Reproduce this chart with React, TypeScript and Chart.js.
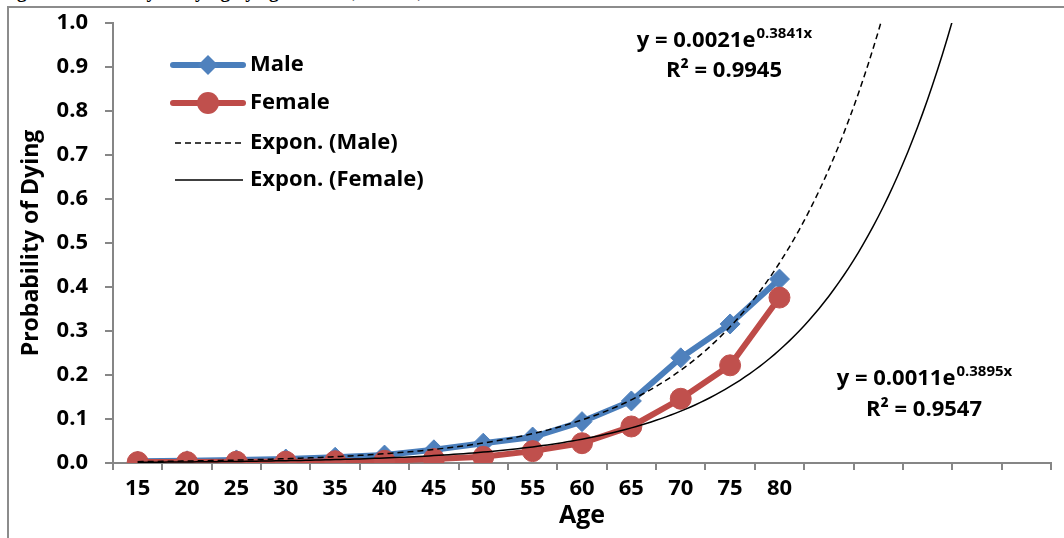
import React, { useEffect, useRef } from 'react';
import { Chart, registerables } from 'chart.js';

Chart.register(...registerables);

// ---- data ----
const ageLabels = ['15', '20', '25', '30', '35', '40', '45', '50', '55', '60', '65', '70', '75', '80'];
const forecastSlots = ['', '', '', '', ''];
const maleValues = [0.004, 0.005, 0.007, 0.009, 0.013, 0.018, 0.03, 0.045, 0.059, 0.094, 0.141, 0.239, 0.316, 0.418];
const femaleValues = [0.002, 0.002, 0.003, 0.003, 0.004, 0.005, 0.009, 0.014, 0.027, 0.045, 0.083, 0.146, 0.222, 0.376];
const maleTrendCoef = [0.0021, 0.3841];
const femaleTrendCoef = [0.0011, 0.3895];
const maleR2 = '0.9945';
const femaleR2 = '0.9547';
const yMin = 0;
const yMax = 1;
const yStep = 0.1;

const FONT = "'Open Sans', sans-serif";
const BLUE_LINE = '#4A7EBB';
const BLUE_FILL = '#4F81BD';
const RED_LINE = '#BE4B48';
const RED_FILL = '#C0504D';
const AXIS = '#868686';

function trendPoints(coef: number[], count: number) {
  const pts: { x: number; y: number }[] = [];
  for (let i = 0; i <= (count - 1) * 10; i++) {
    const x = 1 + i / 10;
    const y = coef[0] * Math.exp(coef[1] * x);
    pts.push({ x, y });
    if (y > yMax * 1.2) break;
  }
  return pts;
}

const legendPlugin = {
  id: 'customLegend',
  afterDraw(chart: any) {
    const ctx = chart.ctx;
    ctx.save();
    const items = [
      { label: 'Male', y: 65, kind: 'male' },
      { label: 'Female', y: 103, kind: 'female' },
      { label: 'Expon. (Male)', y: 143, kind: 'tm' },
      { label: 'Expon. (Female)', y: 180, kind: 'tf' },
    ];
    items.forEach((it) => {
      const x0 = 173, x1 = 243, xm = 208;
      ctx.setLineDash([]);
      if (it.kind === 'male' || it.kind === 'female') {
        ctx.strokeStyle = it.kind === 'male' ? BLUE_LINE : RED_LINE;
        ctx.lineWidth = 6;
        ctx.lineCap = 'round';
        ctx.beginPath();
        ctx.moveTo(x0, it.y);
        ctx.lineTo(x1, it.y);
        ctx.stroke();
        ctx.fillStyle = it.kind === 'male' ? BLUE_FILL : RED_FILL;
        ctx.beginPath();
        if (it.kind === 'male') {
          const r = 10;
          ctx.moveTo(xm - r, it.y);
          ctx.lineTo(xm, it.y - r);
          ctx.lineTo(xm + r, it.y);
          ctx.lineTo(xm, it.y + r);
          ctx.closePath();
        } else {
          ctx.arc(xm, it.y, 11, 0, Math.PI * 2);
        }
        ctx.fill();
      } else {
        ctx.strokeStyle = '#000';
        ctx.lineWidth = 1.5;
        ctx.lineCap = 'butt';
        if (it.kind === 'tm') ctx.setLineDash([6, 4]);
        ctx.beginPath();
        ctx.moveTo(x0 + 2, it.y);
        ctx.lineTo(x1, it.y);
        ctx.stroke();
        ctx.setLineDash([]);
      }
      ctx.fillStyle = '#000';
      ctx.font = `bold 22px ${FONT}`;
      ctx.textAlign = 'left';
      ctx.textBaseline = 'middle';
      ctx.fillText(it.label, 250, it.y);
    });
    ctx.restore();
  },
};

function drawEquation(ctx: any, cx: number, y1: number, y2: number, coef: number[], r2: string) {
  const base = `y = ${coef[0].toFixed(4)}e`;
  const sup = `${coef[1].toFixed(4)}x`;
  ctx.font = `bold 22px ${FONT}`;
  const wb = ctx.measureText(base).width;
  ctx.font = `bold 15px ${FONT}`;
  const ws = ctx.measureText(sup).width;
  const start = cx - (wb + ws) / 2;
  ctx.fillStyle = '#000';
  ctx.textAlign = 'left';
  ctx.textBaseline = 'middle';
  ctx.font = `bold 22px ${FONT}`;
  ctx.fillText(base, start, y1);
  ctx.font = `bold 15px ${FONT}`;
  ctx.fillText(sup, start + wb + 1, y1 - 7);
  ctx.font = `bold 22px ${FONT}`;
  ctx.textAlign = 'center';
  ctx.fillText(`R² = ${r2}`, cx, y2);
}

const equationPlugin = {
  id: 'equations',
  afterDraw(chart: any) {
    const ctx = chart.ctx;
    ctx.save();
    drawEquation(ctx, 724, 41, 71, maleTrendCoef, maleR2);
    drawEquation(ctx, 924, 379, 410, femaleTrendCoef, femaleR2);
    ctx.restore();
  },
};

export default function App() {
  const ref = useRef<HTMLCanvasElement>(null);

  useEffect(() => {
    if (!ref.current) return;
    const labels = [...ageLabels, ...forecastSlots];
    const chart = new Chart(ref.current, {
      type: 'line',
      data: {
        labels,
        datasets: [
          {
            label: 'Male',
            data: maleValues,
            xAxisID: 'x',
            borderColor: BLUE_LINE,
            backgroundColor: BLUE_FILL,
            borderWidth: 6,
            pointStyle: 'rectRot',
            pointRadius: 10,
            pointBorderWidth: 1,
            pointBorderColor: BLUE_FILL,
            pointBackgroundColor: BLUE_FILL,
            tension: 0,
            order: 4,
          },
          {
            label: 'Female',
            data: femaleValues,
            xAxisID: 'x',
            borderColor: RED_LINE,
            backgroundColor: RED_FILL,
            borderWidth: 6,
            pointStyle: 'circle',
            pointRadius: 10.5,
            pointBorderWidth: 1,
            pointBorderColor: RED_FILL,
            pointBackgroundColor: RED_FILL,
            tension: 0,
            order: 3,
          },
          {
            label: 'Expon. (Male)',
            data: trendPoints(maleTrendCoef, labels.length) as any,
            xAxisID: 'xt',
            borderColor: '#000',
            borderWidth: 1.5,
            borderDash: [6, 4],
            pointRadius: 0,
            tension: 0,
            order: 2,
          },
          {
            label: 'Expon. (Female)',
            data: trendPoints(femaleTrendCoef, labels.length) as any,
            xAxisID: 'xt',
            borderColor: '#000',
            borderWidth: 1.5,
            pointRadius: 0,
            tension: 0,
            order: 1,
          },
        ],
      },
      options: {
        animation: false,
        responsive: false,
        maintainAspectRatio: false,
        layout: { padding: { left: 0, top: 23, right: 13, bottom: 0 } },
        plugins: { legend: { display: false }, tooltip: { enabled: false } },
        scales: {
          x: {
            type: 'category',
            offset: true,
            border: { color: AXIS, width: 2 },
            grid: { offset: true, drawOnChartArea: false, drawTicks: true, tickLength: 7, color: AXIS, lineWidth: 2 },
            ticks: {
              autoSkip: false,
              maxRotation: 0,
              padding: 6,
              color: '#000',
              font: { family: FONT, size: 22, weight: 'bold' },
            },
            title: {
              display: true,
              text: 'Age',
              color: '#000',
              font: { family: FONT, size: 25, weight: 'bold' },
              padding: { top: 0, bottom: 7 },
            },
            afterFit: (s: any) => {
              s.height = 75;
              s.paddingLeft = 0;
              s.paddingRight = 0;
            },
          },
          xt: {
            type: 'linear',
            display: false,
            min: 0.5,
            max: labels.length + 0.5,
          },
          y: {
            min: yMin,
            max: yMax,
            border: { color: AXIS, width: 2 },
            grid: { drawOnChartArea: false, drawTicks: true, tickLength: 8, color: AXIS, lineWidth: 2 },
            ticks: {
              stepSize: yStep,
              padding: 17,
              color: '#000',
              font: { family: FONT, size: 22, weight: 'bold' },
              callback: (v: any) => Number(v).toFixed(1),
            },
            title: {
              display: true,
              text: 'Probability of Dying',
              color: '#000',
              font: { family: FONT, size: 23, weight: 'bold' },
              padding: { top: 18, bottom: 0 },
            },
            afterFit: (s: any) => {
              s.width = 113;
              s.paddingTop = 0;
              s.paddingBottom = 0;
            },
          },
        },
      } as any,
      plugins: [legendPlugin, equationPlugin],
    });
    return () => chart.destroy();
  }, []);

  return (
    <div style={{ position: 'absolute', left: 0, top: 0, width: 1064, height: 538, overflow: 'hidden', background: '#fff' }}>
      <div
        style={{
          position: 'absolute',
          left: 0,
          top: -19,
          whiteSpace: 'nowrap',
          fontFamily: "'Liberation Serif', serif",
          fontWeight: 'bold',
          fontSize: 19,
        }}
      >
        Figure: Probability of Dying by age and sex, Kerala, 2011
      </div>
      <div
        style={{
          position: 'absolute',
          left: 7,
          top: 6,
          width: 1070,
          height: 540,
          borderLeft: '2px solid #8c8c8c',
          borderTop: '2px solid #8c8c8c',
        }}
      />
      <canvas ref={ref} width={1064} height={538} style={{ position: 'absolute', left: 0, top: 0 }} />
    </div>
  );
}
